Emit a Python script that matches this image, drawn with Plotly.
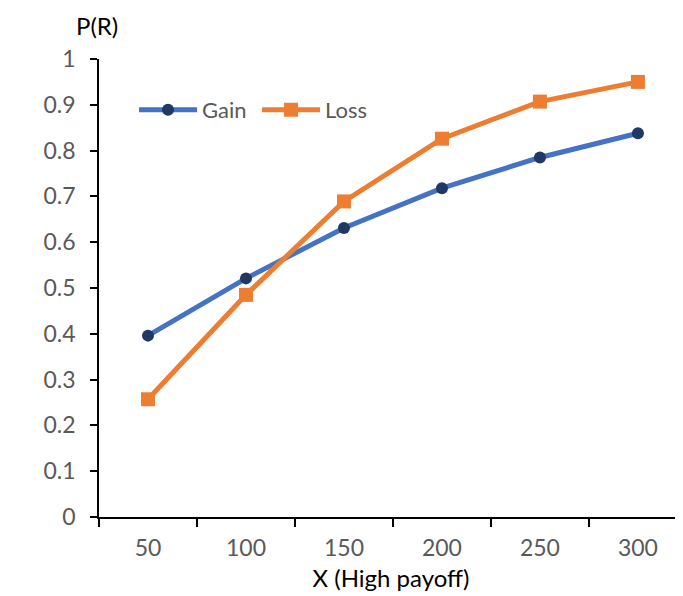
import plotly.graph_objects as go

categories = ["50", "100", "150", "200", "250", "300"]
gain = [0.396, 0.521, 0.631, 0.718, 0.785, 0.838]
loss = [0.257, 0.485, 0.689, 0.826, 0.907, 0.950]
y_ticks = [0, 0.1, 0.2, 0.3, 0.4, 0.5, 0.6, 0.7, 0.8, 0.9, 1]
y_tick_labels = ["0", "0.1", "0.2", "0.3", "0.4", "0.5", "0.6", "0.7", "0.8", "0.9", "1"]

FONT = "Lato, Carlito, 'Open Sans', sans-serif"

fig = go.Figure()
fig.add_trace(go.Scatter(
    x=categories, y=gain, name="Gain", mode="lines+markers",
    line=dict(color="#4472C4", width=5),
    marker=dict(symbol="circle", size=12, color="#1F3864"),
))
fig.add_trace(go.Scatter(
    x=categories, y=loss, name="Loss", mode="lines+markers",
    line=dict(color="#ED7D31", width=5),
    marker=dict(symbol="square", size=14, color="#ED7D31"),
))

fig.update_layout(
    width=683, height=596,
    margin=dict(l=91, r=8, t=51, b=87, autoexpand=False),
    paper_bgcolor="white", plot_bgcolor="white",
    font=dict(family=FONT, size=22, color="#595959"),
    showlegend=True,
    legend=dict(orientation="h", x=0.060, y=0.889, xanchor="left", yanchor="middle",
                font=dict(size=22, color="#595959"), bgcolor="rgba(0,0,0,0)",
                itemwidth=58, entrywidth=50, entrywidthmode="pixels"),
    xaxis=dict(
        type="category", categoryorder="array", categoryarray=categories,
        range=[-0.5, 5.46], tickson="boundaries",
        showgrid=False, zeroline=False, showline=True, linecolor="black", linewidth=1.5,
        ticks="outside", ticklen=8, tickcolor="black", tickwidth=1.5,
        ticklabelstandoff=10,
        tickfont=dict(size=23, color="#595959"), automargin=False,
        title=dict(text="X (High payoff)", font=dict(size=24, color="black"), standoff=10),
    ),
    yaxis=dict(
        range=[0, 1], tickmode="array", tickvals=y_ticks, ticktext=y_tick_labels,
        showgrid=False, zeroline=False, showline=True, linecolor="black", linewidth=1.5,
        ticks="outside", ticklen=7, tickcolor="black", tickwidth=1.5,
        ticklabelstandoff=10,
        tickfont=dict(size=23, color="#595959"), automargin=False,
    ),
    annotations=[dict(text="P(R)", xref="paper", yref="paper", x=0, y=1, xanchor="center",
                      yanchor="middle", xshift=-2, yshift=34, showarrow=False,
                      font=dict(size=24, color="black", family=FONT))],
)

fig.write_html("out.html")
